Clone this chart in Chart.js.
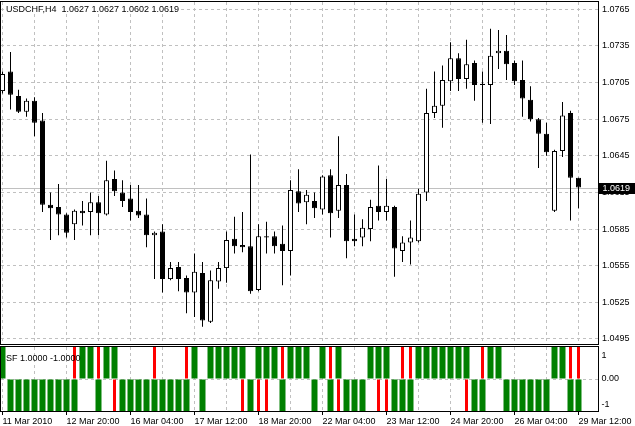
<!DOCTYPE html>
<html>
<head>
<meta charset="utf-8">
<script src="https://cdn.jsdelivr.net/npm/chart.js@4.4.0/dist/chart.umd.min.js"></script>
<style>
  body { margin: 0; background: #fff; }
  #wrap { position: relative; width: 635px; height: 426px; overflow: hidden; background: #fff; }
  #main { position: absolute; left: 0; top: 0; }
  #sub { position: absolute; left: 0; top: 345px; }
</style>
</head>
<body>
<div id="wrap">
  <canvas id="main" width="635" height="345"></canvas>
  <canvas id="sub" width="635" height="81"></canvas>
</div>
<script>
// USDCHF H4 candles, 11 Mar 2010 12:00 .. 29 Mar 2010 12:00
const symbol = 'USDCHF';
const period = 'H4';

const opens = [
  1.0698, 1.0714, 1.0694, 1.0681, 1.0690, 1.0674, 1.0605, 1.0603, 1.0597, 1.0589,
  1.0600, 1.0599, 1.0607, 1.0597, 1.0626, 1.0615, 1.0610, 1.0600, 1.0597, 1.0580,
  1.0583, 1.0544, 1.0554, 1.0545, 1.0533, 1.0549, 1.0509, 1.0542, 1.0553, 1.0577,
  1.0572, 1.0571, 1.0535, 1.0579, 1.0579, 1.0573, 1.0567, 1.0616, 1.0607, 1.0608,
  1.0601, 1.0629, 1.0600, 1.0621, 1.0577, 1.0578, 1.0585, 1.0604, 1.0599, 1.0603,
  1.0567, 1.0574, 1.0575, 1.0615, 1.0680, 1.0686, 1.0706, 1.0725, 1.0708, 1.0721,
  1.0704, 1.0703, 1.0729, 1.0731, 1.0721, 1.0707, 1.0691, 1.0675, 1.0663, 1.0600,
  1.0649, 1.0680, 1.0627];
const highs = [
  1.0714, 1.0730, 1.0699, 1.0692, 1.0693, 1.0680, 1.0615, 1.0622, 1.0598, 1.0601,
  1.0608, 1.0615, 1.0612, 1.0641, 1.0633, 1.0625, 1.0621, 1.0621, 1.0610, 1.0583,
  1.0589, 1.0558, 1.0558, 1.0547, 1.0565, 1.0558, 1.0551, 1.0558, 1.0583, 1.0595,
  1.0599, 1.0646, 1.0589, 1.0591, 1.0583, 1.0588, 1.0625, 1.0634, 1.0617, 1.0615,
  1.0629, 1.0634, 1.0661, 1.0630, 1.0597, 1.0593, 1.0609, 1.0637, 1.0626, 1.0604,
  1.0579, 1.0592, 1.0618, 1.0700, 1.0714, 1.0719, 1.0738, 1.0729, 1.0740, 1.0723,
  1.0714, 1.0749, 1.0748, 1.0744, 1.0723, 1.0723, 1.0702, 1.0676, 1.0672, 1.0650,
  1.0689, 1.0682, 1.0627];
const lows = [
  1.0696, 1.0683, 1.0680, 1.0677, 1.0661, 1.0599, 1.0576, 1.0580, 1.0578, 1.0576,
  1.0588, 1.0580, 1.0580, 1.0596, 1.0612, 1.0603, 1.0592, 1.0594, 1.0570, 1.0544,
  1.0533, 1.0543, 1.0534, 1.0516, 1.0513, 1.0505, 1.0508, 1.0536, 1.0541, 1.0565,
  1.0566, 1.0532, 1.0534, 1.0565, 1.0565, 1.0539, 1.0547, 1.0599, 1.0589, 1.0594,
  1.0597, 1.0578, 1.0594, 1.0561, 1.0571, 1.0571, 1.0575, 1.0592, 1.0592, 1.0546,
  1.0558, 1.0556, 1.0574, 1.0608, 1.0676, 1.0668, 1.0698, 1.0698, 1.0700, 1.0690,
  1.0672, 1.0671, 1.0716, 1.0707, 1.0703, 1.0677, 1.0673, 1.0635, 1.0645, 1.0599,
  1.0644, 1.0592, 1.0602];
const closes = [
  1.0712, 1.0695, 1.0681, 1.0690, 1.0672, 1.0605, 1.0602, 1.0597, 1.0582, 1.0600,
  1.0598, 1.0607, 1.0598, 1.0625, 1.0616, 1.0608, 1.0599, 1.0596, 1.0580, 1.0582,
  1.0544, 1.0553, 1.0544, 1.0533, 1.0550, 1.0510, 1.0543, 1.0553, 1.0576, 1.0571,
  1.0570, 1.0534, 1.0579, 1.0578, 1.0571, 1.0567, 1.0617, 1.0606, 1.0613, 1.0602,
  1.0628, 1.0598, 1.0621, 1.0575, 1.0575, 1.0586, 1.0603, 1.0599, 1.0604, 1.0569,
  1.0574, 1.0578, 1.0614, 1.0680, 1.0686, 1.0707, 1.0725, 1.0708, 1.0720, 1.0703,
  1.0703, 1.0727, 1.0731, 1.0720, 1.0706, 1.0692, 1.0675, 1.0663, 1.0648, 1.0649,
  1.0678, 1.0627, 1.0619];

// SF indicator: green histogram and red signal bars (+1 / -1)
const sfGreen = [
   1, -1, -1, -1, -1, -1, -1, -1, -1, -1,
   1,  1, -1,  1,  1, -1, -1, -1, -1, -1,
  -1, -1, -1, -1,  1, -1,  1,  1,  1,  1,
   1, -1,  1,  1,  1, -1,  1,  1,  1, -1,
   1, -1,  1, -1, -1, -1,  1,  1,  1, -1,
  -1, -1,  1,  1,  1,  1,  1,  1,  1, -1,
  -1,  1,  1, -1, -1, -1, -1, -1, -1,  1,
   1, -1, -1];
const sfRed = [
  null, null, null, null, null, null, null, null, null, 1,
  null, null, 1, null, -1, null, null, null, null, 1,
  null, null, null, 1, null, null, null, null, null, null,
  -1, null, -1, -1, null, 1, null, null, null, null,
  null, 1, -1, null, null, null, null, -1, -1, null,
  1, 1, null, null, null, null, null, null, -1, null,
  1, null, null, null, null, null, null, null, null, null,
  null, 1, 1];

// axis labels
const priceTicks = [1.0495, 1.0525, 1.0555, 1.0585, 1.0615, 1.0645, 1.0675, 1.0705, 1.0735, 1.0765];
const timeLabels = ['11 Mar 2010', '12 Mar 20:00', '16 Mar 04:00', '17 Mar 12:00', '18 Mar 20:00',
                    '22 Mar 04:00', '23 Mar 12:00', '24 Mar 20:00', '26 Mar 04:00', '29 Mar 12:00'];
const labelEvery = 8;   // bars between time labels
const gridEvery = 4;    // bars between vertical grid lines

// view window (bar units / price units)
const xMin = -0.1875, xMax = 74.4375;
const yMin = 1.049084, yMax = 1.077098;

const GRID = '#c0c0c0';
const FONT = { family: 'Liberation Sans', size: 9 };
const FONT_CSS = '9px "Liberation Sans"';

const last = closes.length - 1;
const fmt = v => v.toFixed(4);
const titleText = symbol + ',' + period + '  ' + fmt(opens[last]) + ' ' + fmt(highs[last]) + ' ' +
                  fmt(lows[last]) + ' ' + fmt(closes[last]);
const sfText = 'SF ' + fmt(sfRed[last]) + ' ' + fmt(sfGreen[last]);

const idx = opens.map((o, i) => i);
const bodyData = idx.map(i => ({ x: i, y: [opens[i], closes[i]] }));
const wickData = idx.map(i => ({ x: i, y: [lows[i], highs[i]] }));
const bodyFill = idx.map(i => closes[i] >= opens[i] ? '#ffffff' : '#000000');

const fixY = w => a => { a.width = w; a.paddingTop = 0; a.paddingBottom = 0; };
const fixX = h => a => { a.height = h; a.paddingLeft = 0; a.paddingRight = 0; };

function frame(chart) {
  const { ctx, chartArea: a } = chart;
  ctx.save();
  ctx.strokeStyle = '#000';
  ctx.lineWidth = 1;
  ctx.strokeRect(a.left - 0.5, a.top - 0.5, a.right - a.left + 1, a.bottom - a.top + 1);
  ctx.restore();
}

const mainDecor = {
  id: 'mainDecor',
  beforeDatasetsDraw(chart) {
    // bid line
    const { ctx, chartArea: a, scales: { y } } = chart;
    const py = Math.round(y.getPixelForValue(closes[last])) + 0.5;
    ctx.save();
    ctx.strokeStyle = GRID;
    ctx.lineWidth = 1;
    ctx.beginPath();
    ctx.moveTo(a.left, py);
    ctx.lineTo(a.right, py);
    ctx.stroke();
    ctx.restore();
  },
  afterDraw(chart) {
    const { ctx, chartArea: a, scales: { y } } = chart;
    frame(chart);
    ctx.save();
    ctx.font = FONT_CSS;
    const w = ctx.measureText(titleText).width;
    ctx.fillStyle = '#fff';
    ctx.fillRect(a.left + 4, a.top, w + 3, 12);
    ctx.fillStyle = '#000';
    ctx.textBaseline = 'alphabetic';
    ctx.fillText(titleText, a.left + 5, a.top + 9.5);
    // last price tag on the axis
    const py = Math.round(y.getPixelForValue(closes[last]));
    ctx.fillStyle = '#000';
    ctx.fillRect(a.right + 1, py - 5, 37, 11);
    ctx.fillStyle = '#fff';
    ctx.textBaseline = 'middle';
    ctx.fillText(fmt(closes[last]), a.right + 4.5, py + 0.5);
    ctx.restore();
  }
};

const subDecor = {
  id: 'subDecor',
  afterDraw(chart) {
    const { ctx, chartArea: a, scales: { y } } = chart;
    frame(chart);
    ctx.save();
    ctx.font = FONT_CSS;
    ctx.fillStyle = '#000';
    ctx.textBaseline = 'alphabetic';
    ctx.fillText(sfText, a.left + 5, a.top + 13.5);
    ctx.textBaseline = 'middle';
    ctx.fillText('1', a.right + 3.5, a.top + 9);
    ctx.fillText('0.00', a.right + 3.5, y.getPixelForValue(0));
    ctx.fillText('-1', a.right + 3.5, a.bottom - 6);
    ctx.restore();
  }
};

const common = {
  responsive: false,
  animation: false,
  devicePixelRatio: 1,
  events: [],
  plugins: { legend: { display: false }, tooltip: { enabled: false } }
};

new Chart(document.getElementById('main'), {
  type: 'bar',
  data: {
    datasets: [
      { data: bodyData, backgroundColor: bodyFill, borderColor: '#000', borderWidth: 1,
        borderSkipped: false, barThickness: 5, grouped: false, inflateAmount: 0, order: 0 },
      { data: wickData, backgroundColor: '#000', borderWidth: 0,
        barThickness: 1, grouped: false, inflateAmount: 0, order: 1 }
    ]
  },
  options: {
    ...common,
    layout: { padding: { left: 1, top: 2, right: 0, bottom: 1 } },
    scales: {
      x: {
        type: 'linear', min: xMin, max: xMax, offset: false,
        grid: { color: GRID, offset: false, drawTicks: false },
        border: { display: false, dash: [3, 3] },
        ticks: { display: false, stepSize: gridEvery, includeBounds: false },
        afterFit: fixX(0)
      },
      y: {
        position: 'right', min: yMin, max: yMax,
        afterBuildTicks: a => { a.ticks = priceTicks.map(v => ({ value: v })); },
        grid: { color: GRID, drawTicks: false },
        border: { display: false, dash: [3, 3] },
        ticks: { padding: 4, color: '#000', font: FONT, autoSkip: false, callback: v => fmt(v) },
        afterFit: fixY(37)
      }
    }
  },
  plugins: [mainDecor]
});

new Chart(document.getElementById('sub'), {
  type: 'bar',
  data: {
    datasets: [
      { data: idx.map(i => ({ x: i, y: sfRed[i] })), backgroundColor: '#ff0000', borderWidth: 0,
        barThickness: 3, grouped: false, inflateAmount: 0, order: 0 },
      { data: idx.map(i => ({ x: i, y: sfGreen[i] })), backgroundColor: '#008000', borderWidth: 0,
        barThickness: 6, grouped: false, inflateAmount: 0, order: 1 }
    ]
  },
  options: {
    ...common,
    layout: { padding: { left: 1, top: 2, right: 0, bottom: 0 } },
    scales: {
      x: {
        type: 'linear', min: xMin, max: xMax, offset: false,
        grid: {
          color: GRID, offset: false, tickLength: 4,
          tickColor: c => (c.tick && c.tick.value % labelEvery === 0) ? '#000' : 'rgba(0,0,0,0)'
        },
        border: { display: false, dash: [3, 3] },
        ticks: {
          stepSize: gridEvery, includeBounds: false, autoSkip: false, maxRotation: 0,
          align: 'start', padding: 1, color: '#000', font: FONT,
          callback: v => v % labelEvery === 0 ? timeLabels[v / labelEvery] : ''
        },
        afterFit: fixX(15)
      },
      y: {
        position: 'right', min: -1, max: 1,
        afterBuildTicks: a => { a.ticks = [{ value: 0 }]; },
        grid: { color: GRID, drawTicks: false },
        border: { display: false, dash: [3, 3] },
        ticks: { display: false },
        afterFit: fixY(37)
      }
    }
  },
  plugins: [subDecor]
});
</script>
</body>
</html>
